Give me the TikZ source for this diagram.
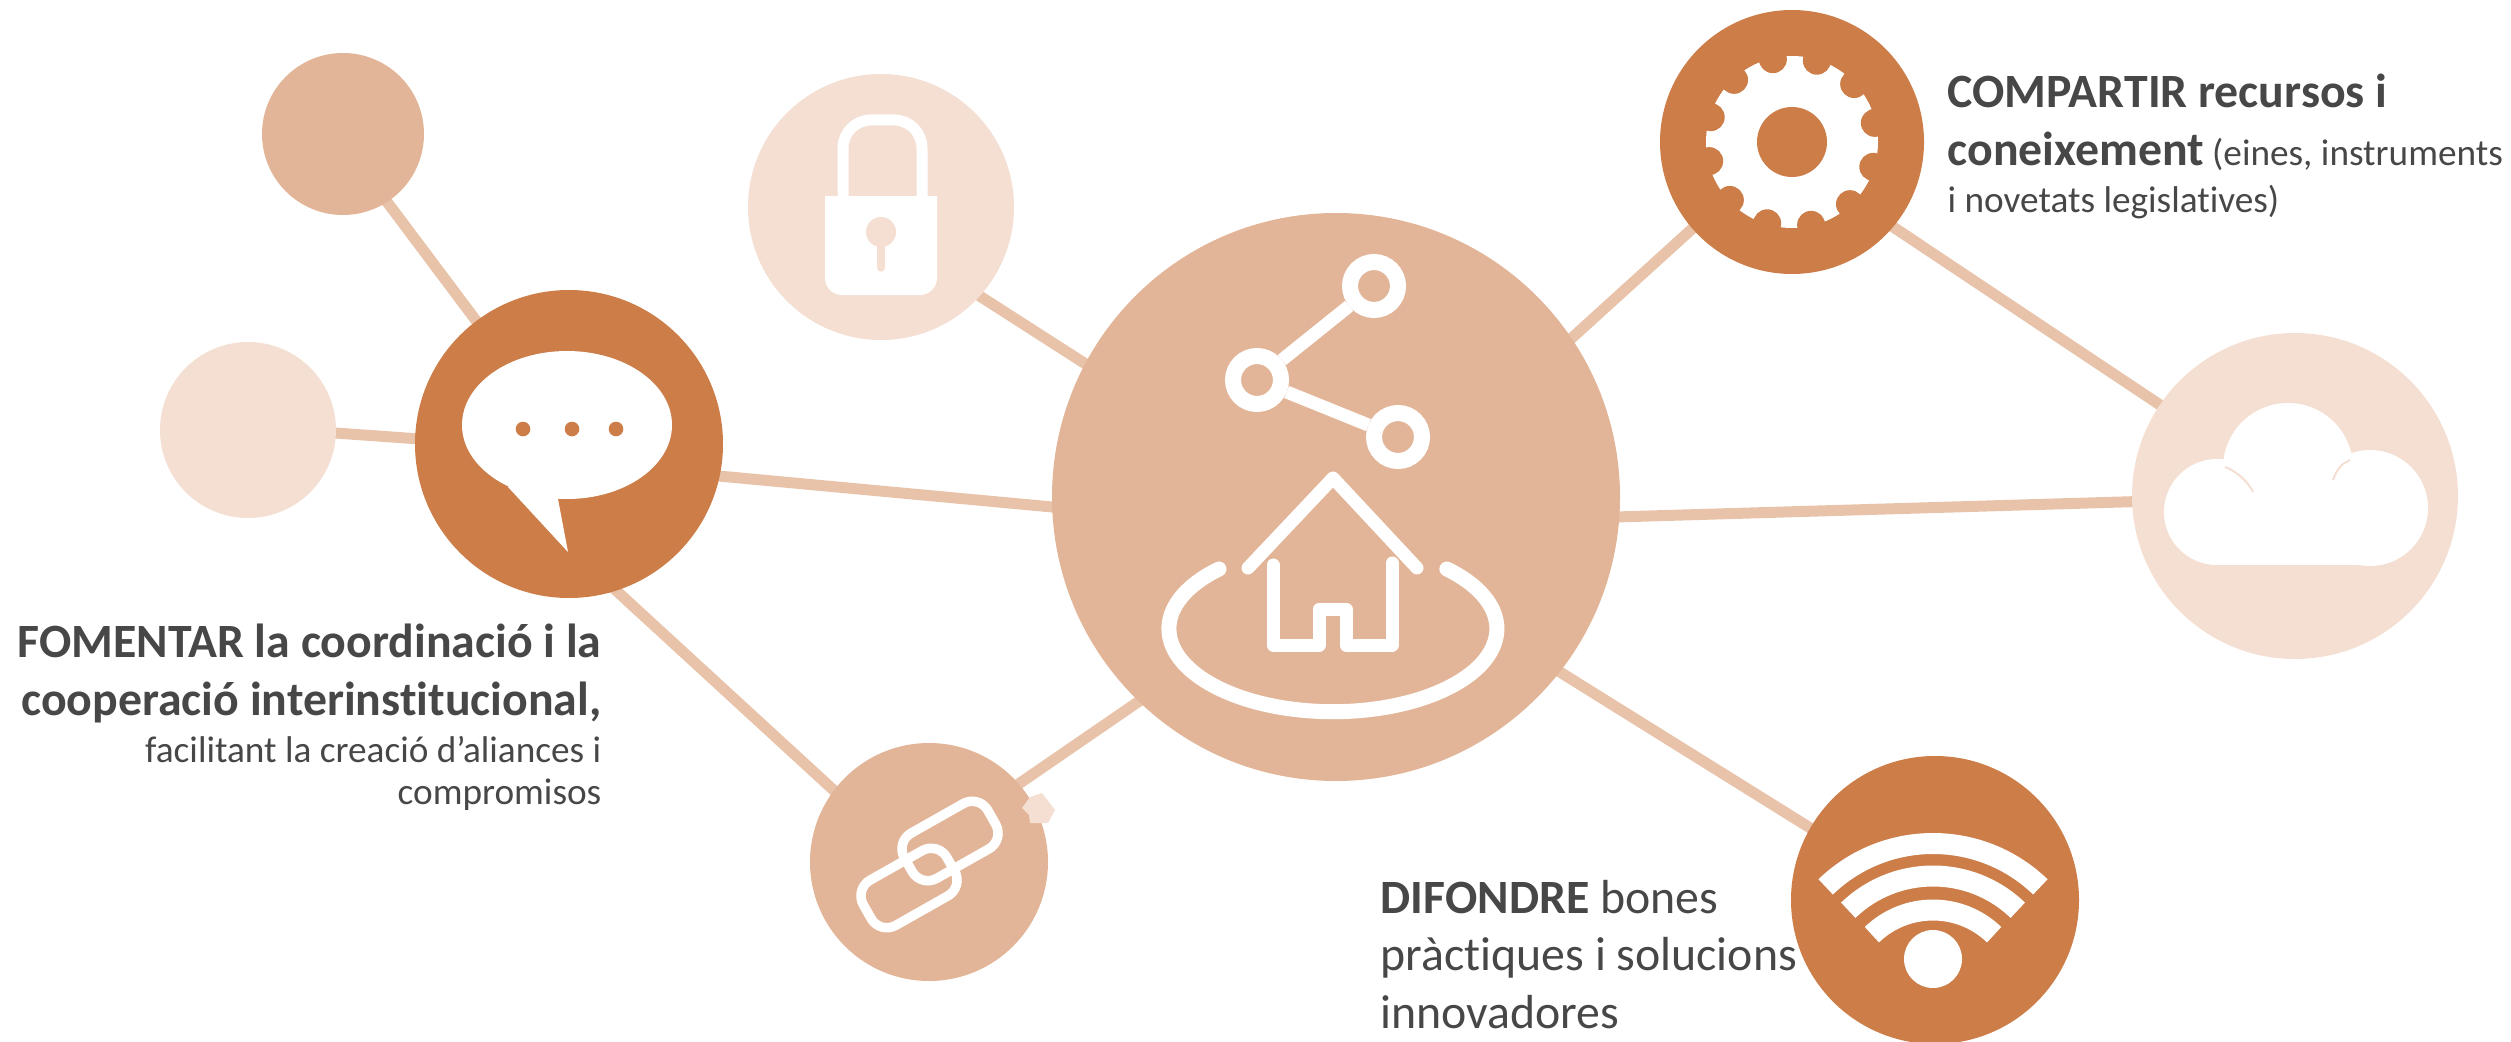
\documentclass[tikz,border=0pt]{standalone}
\usepackage{fontspec}
\setmainfont[Ligatures=NoCommon]{Carlito}
\usepackage{xcolor}
\usetikzlibrary{backgrounds}

\definecolor{darkdisc}{HTML}{CC7D48}
\definecolor{middisc}{HTML}{E3B598}
\definecolor{paledisc}{HTML}{F4DFD2}
\definecolor{linkline}{HTML}{E8C3AA}
\definecolor{labeltext}{HTML}{474747}

\newcommand{\leadsize}{\fontsize{13.6pt}{16pt}\selectfont}
\newcommand{\notesize}{\fontsize{10.6pt}{13pt}\selectfont}

\tikzset{
    disc/.style={circle,inner sep=0pt,minimum size=#1},
    linkedge/.style={draw=linkline,line width=0.11cm,shorten <=-3pt,shorten >=-3pt},
    iconline/.style={draw=white,line cap=round,line join=round},
    ring/.style={circle,draw=white,line width=0.16cm,inner sep=0pt,minimum size=0.48cm},
    chainlink/.style={draw=white,line width=0.095cm,rounded corners=0.18cm,minimum width=0.96cm,minimum height=0.52cm,inner sep=0pt,rotate=29.5},
    labelline/.style={text=labeltext,inner sep=0pt},
}

\begin{document}
\begin{tikzpicture}
    \clip (0,0) rectangle (25.11,10.41);

    % Discs
    \node[disc=5.68cm,fill=middisc] (hub) at (13.36,5.44) {};
    \node[disc=3.08cm,fill=darkdisc] (chat) at (5.69,5.97) {};
    \node[disc=1.62cm,fill=middisc] (topleft) at (3.43,9.07) {};
    \node[disc=1.76cm,fill=paledisc] (paleleft) at (2.48,6.11) {};
    \node[disc=2.66cm,fill=paledisc] (lock) at (8.81,8.34) {};
    \node[disc=2.38cm,fill=middisc] (chain) at (9.29,1.79) {};
    \node[disc=2.64cm,fill=darkdisc] (gear) at (17.92,8.99) {};
    \node[disc=3.26cm,fill=paledisc] (cloud) at (22.95,5.45) {};
    \node[disc=2.88cm,fill=darkdisc] (wifi) at (19.35,1.41) {};

    % Connectors
    \begin{scope}[on background layer]
        \draw[linkedge] (topleft.-57) -- (chat.127);
        \draw[linkedge] (paleleft.-2) -- (chat.178);
        \draw[linkedge] (chat.-12) -- (hub.182);
        \draw[linkedge] (chat.-72) -- (chain.143);
        \draw[linkedge] (lock.-42) -- (hub.152);
        \draw[linkedge] (chain.41) -- (hub.226);
        \draw[linkedge] (hub.34) -- (gear.221);
        \draw[linkedge] (hub.-4) -- (cloud.182);
        \draw[linkedge] (hub.-38) -- (wifi.150);
        \draw[linkedge] (gear.-40) -- (cloud.146);
    \end{scope}

    % Share icon
    \node[ring] (ringtop) at (13.74,7.55) {};
    \node[ring] (ringleft) at (12.57,6.61) {};
    \node[ring] (ringright) at (13.98,6.04) {};
    \draw[iconline,line width=0.13cm,line cap=butt] (ringleft) -- (ringtop);
    \draw[iconline,line width=0.13cm,line cap=butt] (ringleft) -- (ringright);

    % House icon
    \draw[iconline,line width=0.13cm] (12.48,4.73) -- (13.33,5.63) -- (14.17,4.73);
    \draw[iconline,line width=0.13cm] (12.73,4.76) -- (12.73,3.96) -- (13.19,3.96) -- (13.19,4.32) -- (13.46,4.32) -- (13.46,3.96) -- (13.92,3.96) -- (13.92,4.78);
    \draw[iconline,line width=0.15cm] (12.19,4.72) arc[start angle=134,end angle=406,x radius=1.64,y radius=0.83];

    % Speech bubble
    \fill[white] (5.67,6.16) ellipse[x radius=1.05,y radius=0.74];
    \fill[white] (5.08,5.54) -- (5.68,4.89) -- (5.58,5.42) -- (5.6,6) -- cycle;
    \foreach \x in {5.23,5.72,6.16}
        \fill[darkdisc] (\x,6.12) circle (0.073);

    % Lock
    \fill[white] (8.25,8.45) [rounded corners=0.17cm] -- (8.25,7.46) -- (9.37,7.46) [sharp corners] -- (9.37,8.45) -- cycle;
    \draw[white,line width=0.11cm,rounded corners=0.28cm] (8.43,8.40) -- (8.43,9.21) -- (9.22,9.21) -- (9.22,8.40);
    \fill[paledisc] (8.81,8.09) circle (0.15);
    \draw[paledisc,line width=0.073cm,line cap=round] (8.81,8.09) -- (8.81,7.73);

    % Chain
    \node[chainlink] (linkupper) at (9.50,2.00) {};
    \node[chainlink] (linklower) at (9.09,1.53) {};
    \fill[paledisc] (10.22,2.33) -- (10.30,2.44) -- (10.42,2.48) -- (10.55,2.31) -- (10.48,2.18) -- (10.30,2.18) -- (10.29,2.26) -- cycle;

    % Gear
    \fill[white] (gear.center) circle (0.86);
    \foreach \a in {13,43,...,343}
        \fill[darkdisc] ([shift={(\a:0.85)}]gear.center) circle (0.14);
    \fill[darkdisc] (gear.center) circle (0.35);

    % Cloud
    \fill[white] (22.17,5.29) circle (0.53);
    \fill[white] (23.70,5.33) circle (0.58);
    \fill[white] (22.88,5.73) circle (0.65);
    \fill[white] (22.17,4.76) rectangle (23.70,5.40);
    \draw[paledisc,line width=0.02cm] (22.25,5.74) .. controls (22.38,5.69) and (22.48,5.59) .. (22.53,5.49);
    \draw[paledisc,line width=0.02cm] (23.33,5.61) .. controls (23.37,5.73) and (23.43,5.78) .. (23.50,5.81);

    % Wifi
    \foreach \r in {1.545,1.22,0.88}
        \draw[white,line width=0.21cm] (19.33,0.43) ++(46:\r) arc[start angle=46,end angle=134,radius=\r];
    \fill[white] (19.33,0.82) circle (0.29);

    % Labels
    \node[labelline,anchor=base east] (fomentarone) at (6.02,3.84) {\leadsize\bfseries FOMENTAR la coordinació i la};
    \node[labelline,anchor=base east] (fomentartwo) at (6.02,3.26) {\leadsize\bfseries cooperació interinstitucional,};
    \node[labelline,anchor=base east] (fomentarthree) at (6.02,2.79) {\notesize facilitant la creació d’aliances i};
    \node[labelline,anchor=base east] (fomentarfour) at (6.02,2.37) {\notesize compromisos};

    \node[labelline,anchor=base west] (compartirone) at (19.47,9.34) {\leadsize\bfseries COMPARTIR recursos i};
    \node[labelline,anchor=base west] (compartirtwo) at (19.47,8.76) {{\leadsize\bfseries coneixement} \notesize(eines, instruments};
    \node[labelline,anchor=base west] (compartirthree) at (19.47,8.29) {\notesize i novetats legislatives)};

    \node[labelline,anchor=base west] (difondreone) at (13.80,1.28) {\leadsize\textbf{DIFONDRE} bones};
    \node[labelline,anchor=base west] (difondretwo) at (13.80,0.71) {\leadsize pràctiques i solucions};
    \node[labelline,anchor=base west] (difondrethree) at (13.80,0.13) {\leadsize innovadores};
\end{tikzpicture}
\end{document}
